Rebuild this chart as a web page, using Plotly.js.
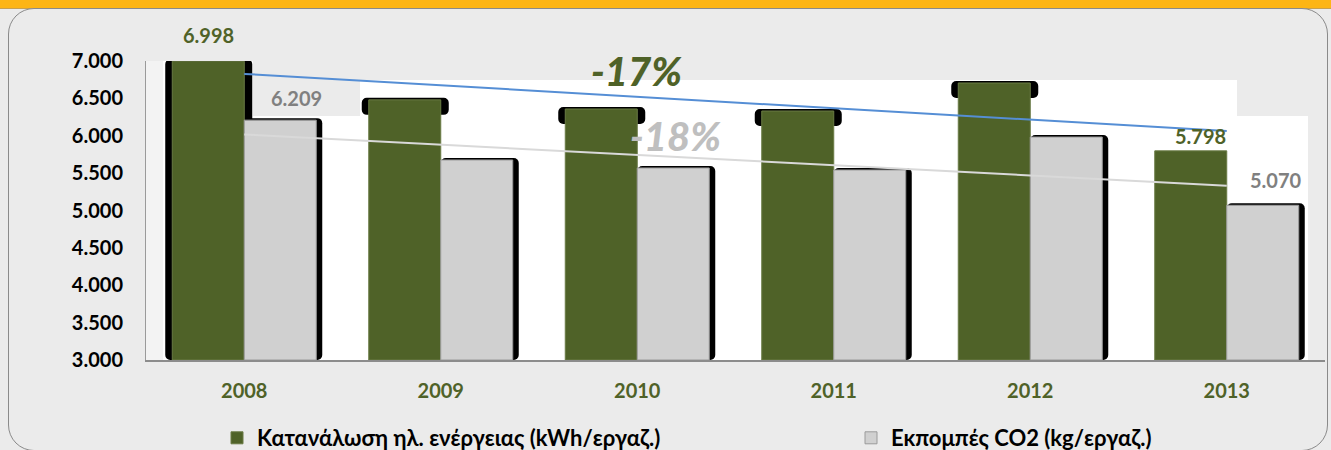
<!DOCTYPE html>
<html>
<head>
<meta charset="utf-8">
<script src="https://cdn.plot.ly/plotly-3.0.1.min.js"></script>
<style>
  html, body { margin: 0; padding: 0; background: #ebebeb; }
  #wrap { position: relative; width: 1331px; height: 450px; overflow: hidden; background: #ebebeb; }
  #band { position: absolute; left: 0; top: 0; width: 1331px; height: 8px; background: #fdb515; border-bottom: 1px solid #c8a050; }
  #frame { position: absolute; left: 8px; top: 8px; width: 1320px; height: 443px; border: 1.5px solid #8a8a8a; border-radius: 26px; background: #ebebeb; box-sizing: border-box; }
  #chart { position: absolute; left: 0; top: 0; width: 1331px; height: 450px; }
</style>
</head>
<body>
<div id="wrap">
  <div id="band"></div>
  <div id="frame"></div>
  <div id="chart"></div>
</div>
<script>
// ---- data ----
const years = ['2008', '2009', '2010', '2011', '2012', '2013'];
const energy = [6998, 6480, 6358, 6331, 6706, 5798];   // Κατανάλωση ηλ. ενέργειας (kWh/εργαζ.)
const co2 = [6209, 5676, 5569, 5542, 5983, 5070];      // Εκπομπές CO2 (kg/εργαζ.)
const seriesNames = ['Κατανάλωση ηλ. ενέργειας (kWh/εργαζ.)', 'Εκπομπές CO2 (kg/εργαζ.)'];
const changeLabels = ['-17%', '-18%'];
const yRange = [3000, 7000];

// ---- style ----
const GREEN = '#4f6228';
const GRAYBAR = '#d0d0d0';
const FONT = 'Lato, "Noto Sans", "Open Sans", sans-serif';

const W = 1331, H = 450;
const M = {l: 146, r: 6, t: 61, b: 90, autoexpand: false};
const plotW = W - M.l - M.r, plotH = H - M.t - M.b;
const catPx = plotW / years.length;
const px2x = p => p / catPx;                            // px -> category units
const px2y = p => p * (yRange[1] - yRange[0]) / plotH;  // px -> value units
const fmt = v => v.toLocaleString('de-DE');

// least squares trend line (as Excel linear trendline)
function trend(vals) {
  const n = vals.length;
  const xs = vals.map((_, i) => i + 1);
  const mx = xs.reduce((a, b) => a + b, 0) / n;
  const my = vals.reduce((a, b) => a + b, 0) / n;
  let sxy = 0, sxx = 0;
  for (let i = 0; i < n; i++) { sxy += (xs[i] - mx) * (vals[i] - my); sxx += (xs[i] - mx) ** 2; }
  const b = sxy / sxx, a = my - b * mx;
  return xs.map(x => a + b * x);
}

const barW = px2x(72);
const topExtra = px2y(2);
const capDepth = px2y(15);

// green "3D" shadow caps (black)
const gShadowX = [], gShadowBase = [], gShadowY = [];
energy.forEach((v, i) => {
  if (i === energy.length - 1) return;
  const base = i === 0 ? yRange[0] : v - capDepth;
  gShadowX.push(years[i]); gShadowBase.push(base); gShadowY.push(v + topExtra - base);
});

const traces = [
  { type: 'bar', x: gShadowX, y: gShadowY, base: gShadowBase,
    offset: -px2x(79), width: px2x(87),
    marker: {color: '#000', cornerradius: 5, line: {width: 0}},
    showlegend: false, hoverinfo: 'skip' },
  { type: 'bar', x: years, y: co2.map(v => v + topExtra - yRange[0]), base: co2.map(() => yRange[0]),
    offset: 0, width: px2x(78),
    marker: {color: '#000', cornerradius: 5, line: {width: 0}},
    showlegend: false, hoverinfo: 'skip' },
  { type: 'bar', name: seriesNames[0], legend: 'legend', x: years, y: energy.map(v => v - yRange[0]), base: energy.map(() => yRange[0]),
    offset: -barW, width: barW,
    marker: {color: GREEN, line: {color: '#6a7b45', width: 1}} },
  { type: 'bar', name: seriesNames[1], legend: 'legend2', x: years, y: co2.map(v => v - yRange[0]), base: co2.map(() => yRange[0]),
    offset: 0, width: barW,
    marker: {color: GRAYBAR, line: {color: '#9a9a9a', width: 1}} },
  { type: 'scatter', mode: 'lines', x: years, y: trend(energy),
    line: {color: '#558ed5', width: 2}, showlegend: false, hoverinfo: 'skip' },
  { type: 'scatter', mode: 'lines', x: years, y: trend(co2),
    line: {color: '#d9d9d9', width: 2}, showlegend: false, hoverinfo: 'skip' }
];

// paper helpers for background boxes
const PX = p => (p - M.l) / plotW;
const PY = p => (M.t + plotH - p) / plotH;
const box = (x0, y0, x1, y1, c) => ({type: 'rect', xref: 'paper', yref: 'paper', layer: 'below',
  x0: PX(x0), x1: PX(x1), y0: PY(y1), y1: PY(y0), fillcolor: c, line: {width: 0}});
const BG = '#ebebeb';
const shapes = [
  box(146, 61, 163, 360, '#f3f3f3'),
  box(253, 61, 1325, 80, BG),
  box(253, 61, 360, 116, BG),
  box(1237, 61, 1325, 116, BG),
  box(1308, 61, 1325, 360, BG)
];

const last = years.length - 1;
const valFont = c => ({family: FONT, size: 20, color: c, weight: 'bold'});
const annotations = [
  {x: 0, y: energy[0], xref: 'x', yref: 'y', text: fmt(energy[0]), showarrow: false,
   xshift: -36, yshift: 26, font: valFont(GREEN)},
  {x: 0, y: co2[0], xref: 'x', yref: 'y', text: fmt(co2[0]), showarrow: false,
   xshift: 52, yshift: 22, font: valFont('#808080')},
  {x: last, y: energy[last], xref: 'x', yref: 'y', text: fmt(energy[last]), showarrow: false,
   xshift: -26, yshift: 15, font: valFont(GREEN)},
  {x: last, y: co2[last], xref: 'x', yref: 'y', text: fmt(co2[last]), showarrow: false,
   xshift: 49, yshift: 25, font: valFont('#808080')},
  {x: PX(636), y: PY(71), xref: 'paper', yref: 'paper', xanchor: 'center', yanchor: 'middle',
   text: '<i>' + changeLabels[0] + '</i>', showarrow: false,
   font: {family: FONT, size: 40, color: GREEN, weight: 900}},
  {x: PX(675), y: PY(136), xref: 'paper', yref: 'paper', xanchor: 'center', yanchor: 'middle',
   text: '<i>' + changeLabels[1] + '</i>', showarrow: false,
   font: {family: FONT, size: 40, color: '#bfbfbf', weight: 900}}
];

const legFont = {family: FONT, size: 22, color: '#000', weight: 'bold'};
const layout = {
  width: W, height: H,
  margin: M,
  paper_bgcolor: 'rgba(0,0,0,0)',
  plot_bgcolor: '#ffffff',
  barmode: 'overlay',
  separators: ',.',
  showlegend: true,
  legend: {orientation: 'h', x: PX(217), xanchor: 'left', y: PY(438), yanchor: 'middle',
    bgcolor: 'rgba(0,0,0,0)', font: legFont},
  legend2: {orientation: 'h', x: PX(851), xanchor: 'left', y: PY(438), yanchor: 'middle',
    bgcolor: 'rgba(0,0,0,0)', font: legFont},
  xaxis: {type: 'category', range: [-0.5, years.length - 0.5], showgrid: false, zeroline: false,
    showline: true, linecolor: '#8c8c8c', linewidth: 2, ticks: '', ticklabelstandoff: 12,
    tickfont: {family: FONT, size: 20, color: GREEN, weight: 'bold'}},
  yaxis: {range: yRange, dtick: 500, tickformat: ',.0f', showgrid: false, zeroline: false,
    showline: true, linecolor: '#9a9a9a', linewidth: 1, ticks: '', ticklabelstandoff: 18,
    tickfont: {family: FONT, size: 20, color: '#000', weight: 'bold'}},
  shapes: shapes,
  annotations: annotations
};

Plotly.newPlot('chart', traces, layout, {displayModeBar: false, staticPlot: true});
</script>
</body>
</html>
